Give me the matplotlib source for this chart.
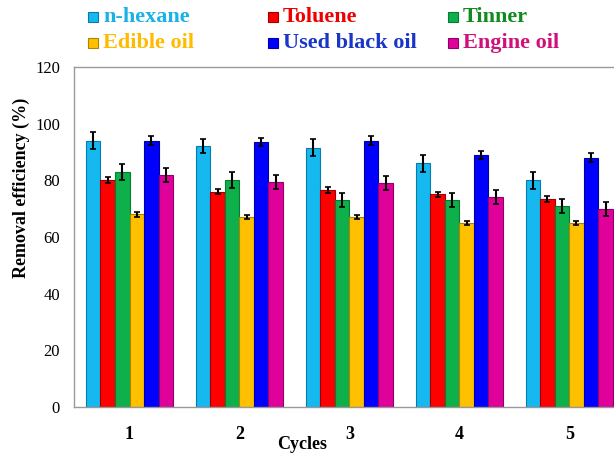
import numpy as np
import matplotlib.pyplot as plt
from matplotlib.patches import Rectangle

plt.rcParams['font.family'] = ['Liberation Serif', 'DejaVu Serif']

# ======================
# 数据
# ======================
cycles = ['1', '2', '3', '4', '5']
names = ['n-hexane', 'Toluene', 'Tinner', 'Edible oil', 'Used black oil', 'Engine oil']

hexane = [94, 92, 91.5, 86, 80]
toluene = [80, 76, 76.5, 75, 73.5]
tinner = [83, 80, 73, 73, 71]
edible = [68, 67, 67, 65, 65]
black_oil = [94, 93.5, 94, 89, 88]
engine = [82, 79.5, 79, 74, 70]

hexane_err = [3, 2.5, 3, 3, 3]
toluene_err = [1, 1, 1, 1, 1]
tinner_err = [2.8, 2.8, 2.5, 2.5, 2.5]
edible_err = [0.8, 0.8, 0.8, 0.8, 0.8]
black_oil_err = [1.5, 1.5, 1.5, 1.5, 1.5]
engine_err = [2.5, 2.5, 2.5, 2.5, 2.5]

series = [hexane, toluene, tinner, edible, black_oil, engine]
errors = [hexane_err, toluene_err, tinner_err, edible_err, black_oil_err, engine_err]

bar_colors = ['#15b9f0', '#ff0000', '#0db04b', '#ffc000', '#0000ff', '#e0009a']
edge_colors = ['#0a7aa8', '#a00000', '#077a33', '#b08400', '#0000a0', '#90006a']
text_colors = ['#1ab0e8', '#ee0000', '#138a20', '#ffbb00', '#1a35c8', '#d0107a']

# ======================
# 绘图
# ======================
fig = plt.figure(figsize=(6.14, 4.54), dpi=100)
ax = fig.add_axes([0.1205, 0.1035, 0.897, 0.749])

x = np.arange(1, len(cycles) + 1)
w = 0.132
for i, (vals, err) in enumerate(zip(series, errors)):
    pos = x + (i - 2.5) * w
    ax.bar(pos, vals, width=w, color=bar_colors[i], edgecolor=edge_colors[i], linewidth=0.8,
           yerr=err, error_kw=dict(ecolor='black', elinewidth=1.5, capsize=2, capthick=1.2))

ax.set_xlim(0.495, 5.505)
ax.set_ylim(0, 120)
ax.set_yticks(np.arange(0, 121, 20))
ax.set_xticks(x)
ax.set_xticklabels(cycles, fontweight='bold', fontsize=13)
ax.tick_params(axis='y', length=0, pad=10, labelsize=12)
ax.tick_params(axis='x', length=0, pad=14)
for s in ax.spines.values():
    s.set_color('#999999')
    s.set_linewidth(1)

fig.text(0.492, 0.02, 'Cycles', ha='center', va='center', fontsize=13, fontweight='bold')
fig.text(0.034, 0.587, 'Removal efficiency (%)', rotation=90, ha='center', va='center',
         fontsize=13, fontweight='bold')

# 图例（顶部两行三列）
col_x = [88, 268, 448]
row_y = [17, 43]
for i, name in enumerate(names):
    cx = col_x[i % 3]
    cy = row_y[i // 3]
    fig.add_artist(Rectangle((cx / 614, (454 - cy - 5) / 454), 10 / 614, 10 / 454,
                             transform=fig.transFigure, facecolor=bar_colors[i],
                             edgecolor=edge_colors[i], linewidth=0.8))
    fig.text((cx + 15) / 614, (454 - cy) / 454, name, ha='left', va='center',
             fontsize=16, fontweight='bold', color=text_colors[i])

plt.savefig('out.png', dpi=100)
